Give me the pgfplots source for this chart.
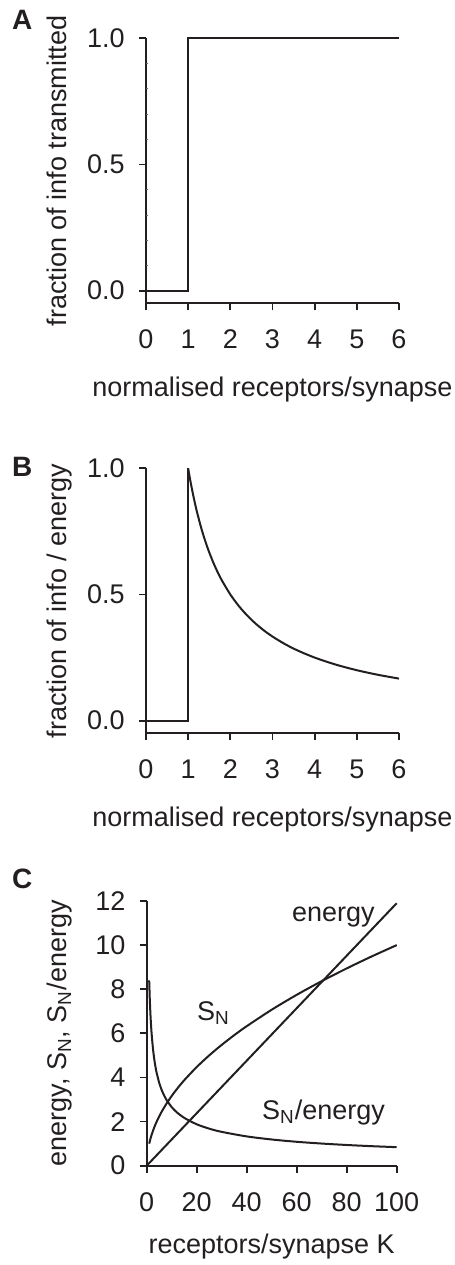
\documentclass[border=0pt]{standalone}
\usepackage{fontspec}
\setmainfont{Liberation Sans}
\usepackage{pgfplots}
\pgfplotsset{compat=1.18}
\definecolor{ink}{HTML}{231F20}
\newcommand{\fs}{\fontsize{13.5}{16}\selectfont}
\newcommand{\pl}{\fontsize{14}{16}\selectfont\bfseries}
\pgfplotsset{
  common/.style={
    scale only axis,
    axis lines=left,
    axis line style={-, line width=0.9pt, draw=ink},
    tick align=outside,
    major tick length=3.5pt,
    every tick/.style={line width=0.9pt, draw=ink},
    every tick label/.append style={font=\fs, text=ink, inner sep=0pt},
    label style={font=\fs, text=ink},
    /pgf/number format/assume math mode=true,
    clip=false,
    xticklabel style={anchor=north, yshift=-9.7pt},
    yticklabel style={anchor=east, xshift=-7pt},
  },
  curve/.style={ink, line width=1pt, no marks},
}
\begin{document}
\begin{tikzpicture}
\path[use as bounding box] (0,0) rectangle (227.5pt,632.5pt);
% ---------- A ----------
\begin{axis}[common,
  at={(73pt,480.85pt)}, anchor=south west,
  width=126.5pt, height=132.5pt,
  xmin=0, xmax=6, ymin=-0.05, ymax=1,
  xtick={0,1,2,3,4,5,6},
  ytick={0,0.5,1},
  yticklabel style={/pgf/number format/fixed, /pgf/number format/fixed zerofill, /pgf/number format/precision=1},
  extra y ticks={0.1,0.2,0.3,0.4,0.6,0.7,0.8,0.9},
  extra y tick labels={},
  extra y tick style={tick align=inside, major tick length=1.2pt, every tick/.style={line width=0.4pt, draw=ink!70}},
  xlabel={normalised receptors/synapse},
  ylabel={fraction of info transmitted},
  xlabel style={at={(axis description cs:0.5,0)}, anchor=base, yshift=-46.5pt},
  ylabel style={at={(axis description cs:-0.3134,0.5)}, anchor=base},
]
\addplot[curve] coordinates {(0,0) (1,0) (1,1) (6,1)};
\end{axis}
% ---------- B ----------
\begin{axis}[common,
  at={(73pt,265.85pt)}, anchor=south west,
  width=126.5pt, height=132.5pt,
  xmin=0, xmax=6, ymin=-0.05, ymax=1,
  xtick={0,1,2,3,4,5,6},
  ytick={0,0.5,1},
  yticklabel style={/pgf/number format/fixed, /pgf/number format/fixed zerofill, /pgf/number format/precision=1},
  xlabel={normalised receptors/synapse},
  ylabel={fraction of info / energy},
  xlabel style={at={(axis description cs:0.5,0)}, anchor=base, yshift=-46.5pt},
  ylabel style={at={(axis description cs:-0.3134,0.5)}, anchor=base},
]
\addplot[curve] coordinates {(0,0) (1,0) (1,1)};
\addplot[curve, smooth] coordinates {
(1,1.0) (1.05,0.9524) (1.1,0.9091) (1.15,0.8696) (1.2,0.8333) (1.3,0.7692)
(1.4,0.7143) (1.5,0.6667) (1.6,0.625) (1.7,0.5882) (1.8,0.5556) (2.0,0.5)
(2.2,0.4545) (2.4,0.4167) (2.6,0.3846) (2.8,0.3571) (3.0,0.3333) (3.3,0.3030)
(3.6,0.2778) (4.0,0.25) (4.5,0.2222) (5.0,0.2) (5.5,0.1818) (6.0,0.1667)};
\end{axis}
% ---------- C ----------
\begin{axis}[common,
  at={(73.35pt,49.65pt)}, anchor=south west,
  width=125pt, height=132.35pt,
  xmin=0, xmax=100, ymin=0, ymax=12,
  xtick={0,20,40,60,80,100},
  ytick={0,2,4,6,8,10,12},
  xlabel={receptors/synapse K},
  ylabel={energy, S\textsubscript{N}, S\textsubscript{N}/energy},
  xlabel style={at={(axis description cs:0.5,0)}, anchor=base, yshift=-43.8pt},
  ylabel style={at={(axis description cs:-0.32,0.5)}, anchor=base},
]
\addplot[curve] coordinates {(0,0) (100,11.9)};
\addplot[curve, smooth] coordinates {
(1,1) (1.5,1.2247) (2,1.4142) (3,1.7321) (4,2) (5,2.2361) (6,2.4495) (8,2.8284)
(10,3.1623) (12,3.4641) (15,3.873) (20,4.4721) (25,5) (30,5.4772) (35,5.9161)
(40,6.3246) (50,7.0711) (60,7.746) (70,8.3666) (80,8.9443) (90,9.4868) (100,10)};
\addplot[curve, smooth] coordinates {
(1,8.40) (1.2,7.668) (1.4,7.099) (1.6,6.641) (1.8,6.261) (2,5.940) (2.5,5.313)
(3,4.850) (3.5,4.490) (4,4.200) (5,3.757) (6,3.429) (7,3.175) (8,2.970)
(10,2.656) (12,2.425) (15,2.169) (20,1.878) (25,1.680) (30,1.534) (40,1.328)
(50,1.188) (60,1.084) (70,1.004) (80,0.939) (90,0.885) (100,0.840)};
\node[anchor=base west, inner sep=0pt, font=\fs, text=ink] at (axis cs:58,11.06) {energy};
\node[anchor=base west, inner sep=0pt, font=\fs, text=ink] at (axis cs:20,6.6) {S\textsubscript{N}};
\node[anchor=base west, inner sep=0pt, font=\fs, text=ink] at (axis cs:46,2.1) {S\textsubscript{N}/energy};
\end{axis}
\node[anchor=north west, inner sep=0pt, text=ink] at (5.85pt,627.5pt) {\pl A};
\node[anchor=north west, inner sep=0pt, text=ink] at (5.85pt,404pt) {\pl B};
\node[anchor=north west, inner sep=0pt, text=ink] at (5.85pt,198pt) {\pl C};
\end{tikzpicture}
\end{document}
